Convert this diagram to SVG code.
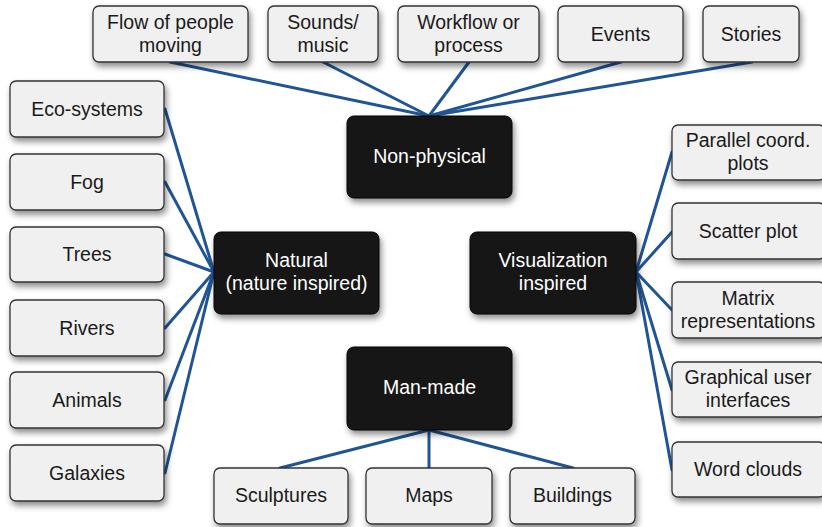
<svg xmlns="http://www.w3.org/2000/svg" width="822" height="527" viewBox="0 0 822 527">
<defs>
<filter id="sh" x="-20%" y="-20%" width="140%" height="160%">
<feDropShadow dx="2" dy="4" stdDeviation="3" flood-color="#000" flood-opacity="0.45"/>
</filter>
</defs>
<style>
.leaf rect{fill:#f0f0f0;stroke:#333;stroke-width:1.3;filter:url(#sh)}
.hub rect{fill:#151515;stroke:#000;stroke-width:1;filter:url(#sh)}
text{font-family:"Liberation Sans",Arial,sans-serif;font-size:19.5px;text-anchor:middle}
.leaf text{fill:#1a1a1a}
.hub text{fill:#fff}
#connectors line{stroke:#1f5596;stroke-width:3;stroke-linecap:round}
</style>
<rect width="822" height="527" fill="#fff"/>
<g id="connectors">
<line x1="170" y1="62" x2="429" y2="116"/>
<line x1="323" y1="62" x2="429" y2="116"/>
<line x1="469" y1="62" x2="429" y2="116"/>
<line x1="621" y1="62" x2="429" y2="116"/>
<line x1="752" y1="62" x2="429" y2="116"/>
<line x1="165" y1="109" x2="214" y2="272"/>
<line x1="165" y1="182" x2="214" y2="272"/>
<line x1="165" y1="254" x2="214" y2="272"/>
<line x1="165" y1="328" x2="214" y2="272"/>
<line x1="165" y1="400" x2="214" y2="272"/>
<line x1="165" y1="473" x2="214" y2="272"/>
<line x1="636" y1="272" x2="672" y2="152"/>
<line x1="636" y1="272" x2="672" y2="232"/>
<line x1="636" y1="272" x2="672" y2="310"/>
<line x1="636" y1="272" x2="672" y2="390"/>
<line x1="636" y1="272" x2="672" y2="470"/>
<line x1="429" y1="430" x2="280" y2="468"/>
<line x1="429" y1="430" x2="429" y2="468"/>
<line x1="429" y1="430" x2="573" y2="468"/>
</g>
<g id="n-flow" class="leaf"><rect x="93" y="6" width="155" height="56" rx="6"/><text x="170.5" y="29">Flow of people</text><text x="170.5" y="52">moving</text></g>
<g id="n-sounds" class="leaf"><rect x="268" y="6" width="110" height="56" rx="6"/><text x="323" y="29">Sounds/</text><text x="323" y="52">music</text></g>
<g id="n-workflow" class="leaf"><rect x="398" y="6" width="141" height="56" rx="6"/><text x="468.5" y="29">Workflow or</text><text x="468.5" y="52">process</text></g>
<g id="n-events" class="leaf"><rect x="558" y="6" width="125" height="56" rx="6"/><text x="620.5" y="40.5">Events</text></g>
<g id="n-stories" class="leaf"><rect x="703" y="6" width="96" height="56" rx="6"/><text x="751" y="40.5">Stories</text></g>
<g id="n-nonphysical" class="hub"><rect x="347" y="116" width="165" height="82" rx="7"/><text x="429.5" y="163">Non-physical</text></g>
<g id="n-eco" class="leaf"><rect x="10" y="81" width="154" height="56" rx="6"/><text x="87" y="115.5">Eco-systems</text></g>
<g id="n-fog" class="leaf"><rect x="10" y="154" width="154" height="56" rx="6"/><text x="87" y="188.5">Fog</text></g>
<g id="n-trees" class="leaf"><rect x="10" y="227" width="154" height="55" rx="6"/><text x="87" y="260.5">Trees</text></g>
<g id="n-rivers" class="leaf"><rect x="10" y="300" width="154" height="56" rx="6"/><text x="87" y="334.5">Rivers</text></g>
<g id="n-animals" class="leaf"><rect x="10" y="372" width="154" height="56" rx="6"/><text x="87" y="406.5">Animals</text></g>
<g id="n-galaxies" class="leaf"><rect x="10" y="445" width="154" height="56" rx="6"/><text x="87" y="479.5">Galaxies</text></g>
<g id="n-natural" class="hub"><rect x="214" y="232" width="165" height="82" rx="7"/><text x="296.5" y="267">Natural</text><text x="296.5" y="290">(nature inspired)</text></g>
<g id="n-vis" class="hub"><rect x="470" y="232" width="166" height="82" rx="7"/><text x="553" y="267">Visualization</text><text x="553" y="290">inspired</text></g>
<g id="n-manmade" class="hub"><rect x="347" y="347" width="165" height="83" rx="7"/><text x="429.5" y="394">Man-made</text></g>
<g id="n-parallel" class="leaf"><rect x="672" y="125" width="153" height="55" rx="6"/><text x="748" y="147">Parallel coord.</text><text x="748" y="170">plots</text></g>
<g id="n-scatter" class="leaf"><rect x="672" y="203" width="153" height="56" rx="6"/><text x="748" y="237.5">Scatter plot</text></g>
<g id="n-matrix" class="leaf"><rect x="672" y="282" width="153" height="56" rx="6"/><text x="748" y="305">Matrix</text><text x="748" y="328">representations</text></g>
<g id="n-gui" class="leaf"><rect x="672" y="362" width="153" height="55" rx="6"/><text x="748" y="384">Graphical user</text><text x="748" y="407">interfaces</text></g>
<g id="n-word" class="leaf"><rect x="672" y="442" width="153" height="55" rx="6"/><text x="748" y="475.5">Word clouds</text></g>
<g id="n-sculptures" class="leaf"><rect x="214" y="468" width="134" height="56" rx="6"/><text x="281" y="502">Sculptures</text></g>
<g id="n-maps" class="leaf"><rect x="366" y="468" width="126" height="56" rx="6"/><text x="429" y="502">Maps</text></g>
<g id="n-buildings" class="leaf"><rect x="510" y="468" width="125" height="56" rx="6"/><text x="572.5" y="502">Buildings</text></g>
</svg>
